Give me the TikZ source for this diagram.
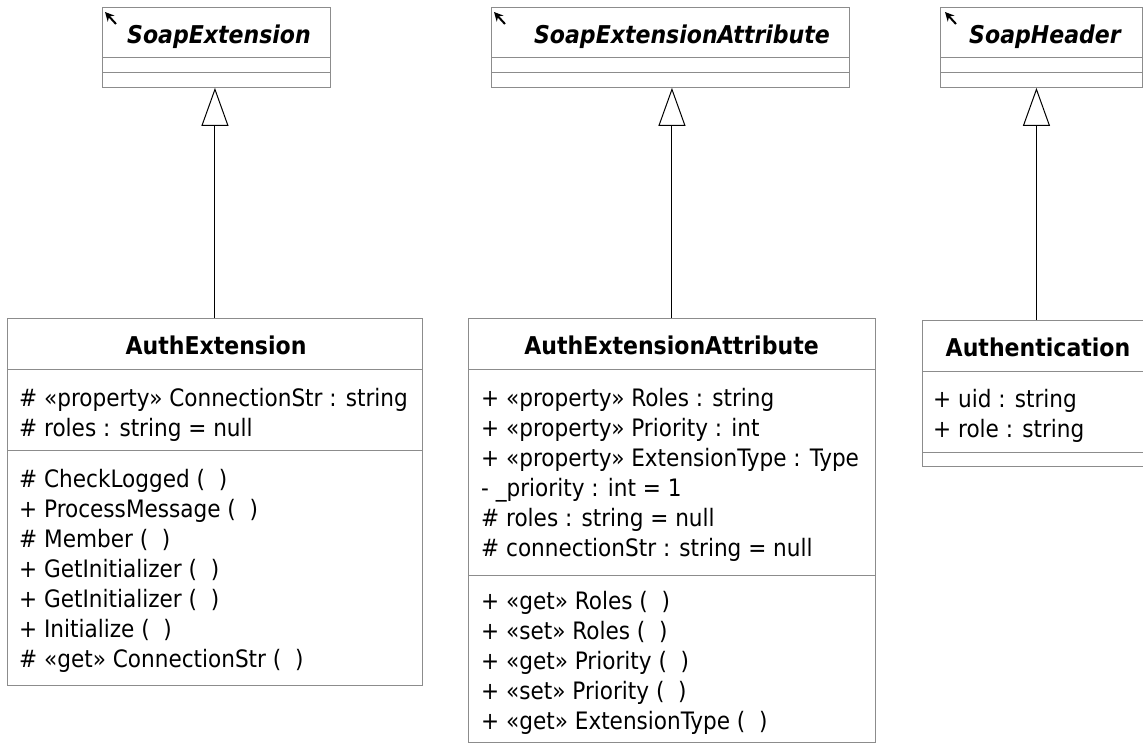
\documentclass[tikz,border=0pt]{standalone}
\usepackage{fontspec}
\setmainfont{DejaVu Sans Condensed}
\usetikzlibrary{arrows.meta}

\definecolor{edge}{gray}{0.55}

\tikzset{
  classbox/.style={draw=edge, line width=0.9pt, fill=white, rectangle, inner sep=0pt, anchor=north west},
  sepline/.style={draw=edge, line width=0.9pt},
  member/.style={anchor=base west, inner sep=0pt, font=\fontsize{24}{28}\selectfont},
  ctitle/.style={anchor=base, inner sep=0pt, font=\fontsize{24.5}{28}\selectfont\bfseries},
  atitle/.style={anchor=base, inner sep=0pt, font=\fontsize{24.5}{28}\selectfont\bfseries\itshape},
  absmark/.style={line width=2pt, -{Stealth[length=9pt,width=9pt]}},
  inherit/.style={line width=1pt, -{Triangle[open,length=38pt,width=27pt,line width=1pt]}}
}

\begin{document}
\begin{tikzpicture}[x=1pt, y=-1pt]
\useasboundingbox (0,0) rectangle (1143,746);

% ---- abstract base classes ----
\node[classbox, minimum width=228pt, minimum height=80pt] (soapext) at (102,7) {};
\draw[sepline] (102,57) -- (330,57) (102,72) -- (330,72);
\draw[absmark] (116,24) -- (105,12);
\node[atitle] (soapextT) at (219,44) {SoapExtension};

\node[classbox, minimum width=358pt, minimum height=80pt] (soapattr) at (491,7) {};
\draw[sepline] (491,57) -- (849,57) (491,72) -- (849,72);
\draw[absmark] (505,24) -- (494,12);
\node[atitle] (soapattrT) at (682,44) {SoapExtensionAttribute};

\node[classbox, minimum width=202pt, minimum height=80pt] (soaphdr) at (940,7) {};
\draw[sepline] (940,57) -- (1142,57) (940,72) -- (1142,72);
\draw[absmark] (956,24) -- (945,12);
\node[atitle] (soaphdrT) at (1045,44) {SoapHeader};

% ---- AuthExtension ----
\node[classbox, minimum width=415pt, minimum height=367pt] (authext) at (7,318) {};
\draw[sepline] (7,369) -- (422,369) (7,450) -- (422,450);
\node[ctitle] (authextT) at (216,354) {AuthExtension};
\node[member] (ae1) at (19,406) {\# «property» ConnectionStr : string};
\node[member] (ae2) at (19,436) {\# roles : string = null};
\node[member] (ae3) at (19,487) {\# CheckLogged (\ \ )};
\node[member] (ae4) at (19,517) {+ ProcessMessage (\ \ )};
\node[member] (ae5) at (19,547) {\# Member (\ \ )};
\node[member] (ae6) at (19,577) {+ GetInitializer (\ \ )};
\node[member] (ae7) at (19,607) {+ GetInitializer (\ \ )};
\node[member] (ae8) at (19,637) {+ Initialize (\ \ )};
\node[member] (ae9) at (19,667) {\# «get» ConnectionStr (\ \ )};

% ---- AuthExtensionAttribute ----
\node[classbox, minimum width=407pt, minimum height=424pt] (authattr) at (468,318) {};
\draw[sepline] (468,369) -- (875,369) (468,575) -- (875,575);
\node[ctitle] (authattrT) at (671.5,354) {AuthExtensionAttribute};
\node[member] (aa1) at (481,406) {+ «property» Roles : string};
\node[member] (aa2) at (481,436) {+ «property» Priority : int};
\node[member] (aa3) at (481,466) {+ «property» ExtensionType : Type};
\node[member] (aa4) at (481,496) {- \_priority : int = 1};
\node[member] (aa5) at (481,526) {\# roles : string = null};
\node[member] (aa6) at (481,556) {\# connectionStr : string = null};
\node[member] (aa7) at (481,609) {+ «get» Roles (\ \ )};
\node[member] (aa8) at (481,639) {+ «set» Roles (\ \ )};
\node[member] (aa9) at (481,669) {+ «get» Priority (\ \ )};
\node[member] (aa10) at (481,699) {+ «set» Priority (\ \ )};
\node[member] (aa11) at (481,729) {+ «get» ExtensionType (\ \ )};

% ---- Authentication ----
\node[classbox, minimum width=228pt, minimum height=146pt] (auth) at (922,320) {};
\draw[sepline] (922,371) -- (1150,371) (922,452) -- (1150,452);
\node[ctitle] (authT) at (1038,356) {Authentication};
\node[member] (au1) at (933,407) {+ uid : string};
\node[member] (au2) at (933,437) {+ role : string};

% ---- generalisations ----
\draw[inherit] (authext.north) -- (authext.north |- soapext.south);
\draw[inherit] (authattr.north) -- (authattr.north |- soapattr.south);
\draw[inherit] (auth.north) -- (auth.north |- soaphdr.south);
\end{tikzpicture}
\end{document}
